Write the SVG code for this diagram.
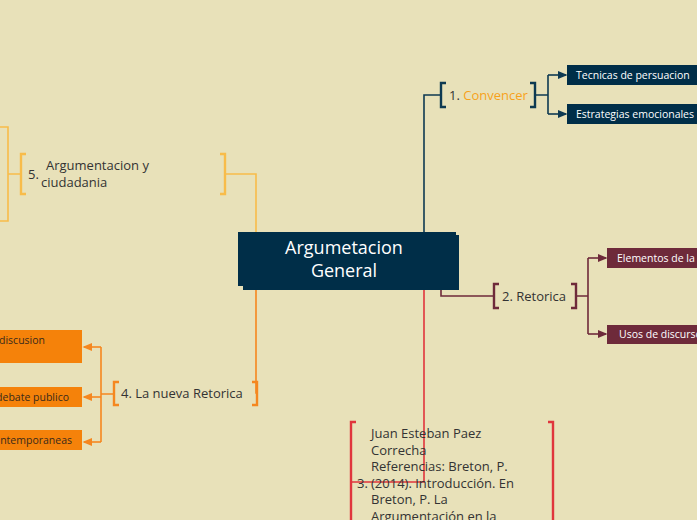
<svg xmlns="http://www.w3.org/2000/svg" width="697" height="520" viewBox="0 0 697 520">
<defs>
<style>
text{font-family:"Open Sans","Noto Sans",sans-serif;}
.lbl{font-size:13px;fill:#333333;}
.box{font-size:10.5px;fill:#ffffff;}
.obox{font-size:10.5px;fill:#3a2a1a;}
.c{fill:none;stroke-width:1.6;}
.navy{stroke:#0E3A52;}
.mar{stroke:#6E2A3A;}
.red{stroke:#E0353C;}
.org{stroke:#F5871F;}
.yel{stroke:#F8BC4A;}
.br{fill:none;stroke-width:2.4;}
</style>
<marker id="an" viewBox="0 0 6 6" refX="5" refY="3" markerWidth="6" markerHeight="6" orient="auto"><path d="M0,0.5 L6,3 L0,5.5 z" fill="#0E3A52"/></marker>
<marker id="am" viewBox="0 0 6 6" refX="5" refY="3" markerWidth="6" markerHeight="6" orient="auto"><path d="M0,0.5 L6,3 L0,5.5 z" fill="#6E2A3A"/></marker>
<marker id="ao" viewBox="0 0 6 6" refX="5" refY="3" markerWidth="6" markerHeight="6" orient="auto"><path d="M0,0.5 L6,3 L0,5.5 z" fill="#F5871F"/></marker>
</defs>
<rect width="697" height="520" fill="#E8E1B9"/>
<g id="connectors">
<path class="c navy" d="M424,232 V95 H440"/>
<path class="c navy" d="M536,95 H548 M548,75 V114"/>
<path class="c navy" d="M548,75 H566" marker-end="url(#an)"/>
<path class="c navy" d="M548,114 H566" marker-end="url(#an)"/>
<path class="c mar" d="M441,290 V296 H493"/>
<path class="c mar" d="M577,296 H588 M588,258 V334"/>
<path class="c mar" d="M588,258 H606" marker-end="url(#am)"/>
<path class="c mar" d="M588,334 H606" marker-end="url(#am)"/>
<path class="c red" d="M424,290 V482 H350"/>
<path class="c org" d="M256,290 V393 H258"/>
<path class="c org" d="M113,394 H101 M101,347 V442"/>
<path class="c org" d="M101,347 H84" marker-end="url(#ao)"/>
<path class="c org" d="M101,397 H84" marker-end="url(#ao)"/>
<path class="c org" d="M101,442 H84" marker-end="url(#ao)"/>
<path class="c yel" d="M256,232 V174 H226"/>
<path class="c yel" d="M20,174 H8 M0,127 H8 V221 H0"/>
</g>
<g id="central">
<rect x="238" y="232" width="218" height="54" fill="#002E48"/>
<rect x="243" y="235" width="216" height="55" fill="#002E48"/>
<text x="344" y="254" text-anchor="middle" font-size="18" fill="#ffffff">Argumetacion</text>
<text x="344" y="277" text-anchor="middle" font-size="18" fill="#ffffff">General</text>
</g>
<g id="n1">
<path class="br navy" d="M446,83 H441 V107 H446 M530,83 H535 V107 H530"/>
<text x="449" y="100" class="lbl">1. <tspan fill="#F7A21B">Convencer</tspan></text>
</g>
<g id="n1a">
<rect x="567" y="65" width="130" height="20" fill="#002E48"/>
<text x="576" y="79" class="box">Tecnicas de persuacion</text>
</g>
<g id="n1b">
<rect x="567" y="104" width="130" height="20" fill="#002E48"/>
<text x="576" y="118" class="box">Estrategias emocionales</text>
</g>
<g id="n2">
<path class="br mar" d="M499,284 H494 V308 H499 M571,284 H576 V308 H571"/>
<text x="502" y="301" class="lbl">2. Retorica</text>
</g>
<g id="n2a">
<rect x="607" y="248" width="90" height="20" fill="#6E2A3A"/>
<text x="617" y="262" class="box">Elementos de la</text>
</g>
<g id="n2b">
<rect x="607" y="325" width="90" height="19" fill="#6E2A3A"/>
<text x="619" y="338" class="box">Usos de discurso</text>
</g>
<g id="n3">
<path class="br red" d="M356,422 H351 V520 M548,422 H553 V520"/>
<text x="357" y="488" class="lbl">3.</text>
<text class="lbl"><tspan x="371" y="438">Juan Esteban Paez</tspan><tspan x="371" y="455">Correcha</tspan><tspan x="371" y="471">Referencias: Breton, P.</tspan><tspan x="371" y="488">(2014). Introducción. En</tspan><tspan x="371" y="504">Breton, P. La</tspan><tspan x="371" y="521">Argumentación en la</tspan></text>
</g>
<g id="n4">
<path class="br org" d="M119,382 H114 V405 H119 M252,382 H257 V405 H252"/>
<text x="121" y="398" class="lbl">4. La nueva Retorica</text>
</g>
<g id="n4a">
<rect x="-10" y="330" width="92" height="33" fill="#F5820A"/>
<text x="45" y="344" text-anchor="end" class="obox">discusion</text>
</g>
<g id="n4b">
<rect x="-10" y="387" width="92" height="20" fill="#F5820A"/>
<text x="69" y="401" text-anchor="end" class="obox">debate publico</text>
</g>
<g id="n4c">
<rect x="-10" y="430" width="92" height="20" fill="#F5820A"/>
<text x="72" y="444" text-anchor="end" class="obox">contemporaneas</text>
</g>
<g id="n5">
<path class="br yel" d="M26,154 H21 V194 H26 M220,154 H225 V194 H220"/>
<text x="28" y="179" class="lbl">5.</text>
<text x="46" y="170" class="lbl">Argumentacion y</text>
<text x="41" y="187" class="lbl">ciudadania</text>
</g>
</svg>
